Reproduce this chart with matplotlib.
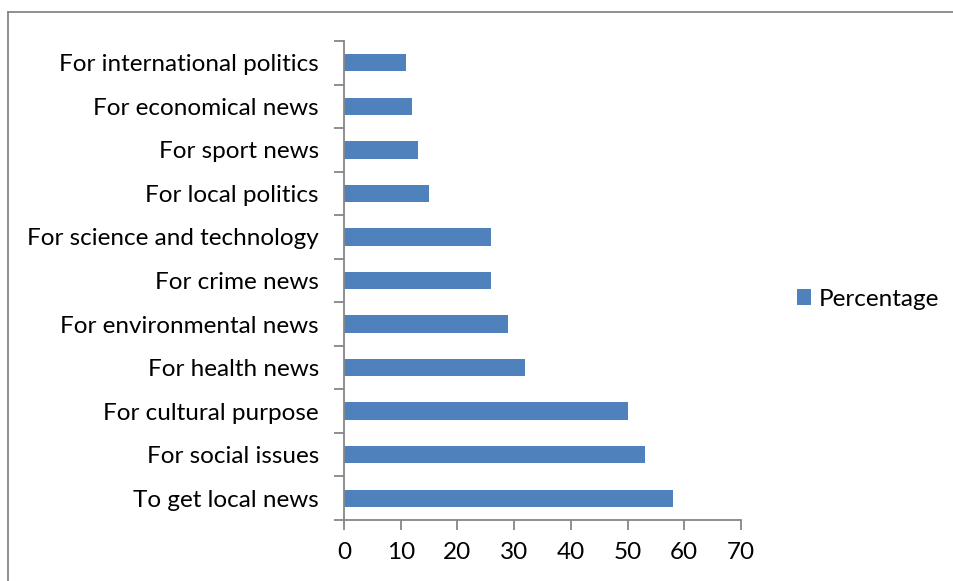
import matplotlib.pyplot as plt
from matplotlib.lines import Line2D

# survey categories, bottom to top
categories = [
    "To get local news",
    "For social issues",
    "For cultural purpose",
    "For health news",
    "For environmental news",
    "For crime news",
    "For science and technology",
    "For local politics",
    "For sport news",
    "For economical news",
    "For international politics",
]
percentage = [58, 53, 50, 32, 29, 26, 26, 15, 13, 12, 11]
x_ticks = [0, 10, 20, 30, 40, 50, 60, 70]

BAR_COLOR = "#4F81BD"
AXIS_COLOR = "#868686"
FS = 17.5

plt.rcParams["font.family"] = ["Lato", "DejaVu Sans"]

fig = plt.figure(figsize=(9.54, 5.81), dpi=100)
ax = fig.add_axes([344 / 954, 1 - 520 / 581, (741 - 344) / 954, (520 - 41) / 581])

ypos = list(range(len(categories)))
ax.barh(ypos, percentage, height=0.4, color=BAR_COLOR, label="Percentage")

ax.set_xlim(0, 70)
ax.set_ylim(-0.5, len(categories) - 0.5)
ax.set_xticks(x_ticks)
ax.set_xticklabels([str(t) for t in x_ticks], fontsize=FS)
ax.set_yticks(ypos)
ax.set_yticklabels(categories, fontsize=FS)

# category boundary ticks as in the spreadsheet style
ax.set_yticks([y - 0.5 for y in ypos] + [len(categories) - 0.5], minor=True)
ax.tick_params(axis="y", which="major", length=0, pad=18)
ax.tick_params(axis="y", which="minor", length=7, width=1.3, color=AXIS_COLOR)
ax.tick_params(axis="x", length=7, width=1.3, color=AXIS_COLOR, pad=9)

for side in ["top", "right"]:
    ax.spines[side].set_visible(False)
for side in ["left", "bottom"]:
    ax.spines[side].set_color(AXIS_COLOR)
    ax.spines[side].set_linewidth(1.3)

leg = fig.legend(
    loc="center left",
    bbox_to_anchor=(775 / 954, 1 - 299 / 581),
    frameon=False,
    fontsize=FS,
    handlelength=0.6,
    handleheight=0.6,
    handletextpad=0.3,
)

# chart-area frame, clipped by the image edges
fig.add_artist(Line2D([8 / 954, 1.0], [1 - 12 / 581] * 2, color=AXIS_COLOR, lw=1.3))
fig.add_artist(Line2D([8 / 954] * 2, [1 - 12 / 581, 0.0], color=AXIS_COLOR, lw=1.3))

fig.savefig("out.png", dpi=100)
